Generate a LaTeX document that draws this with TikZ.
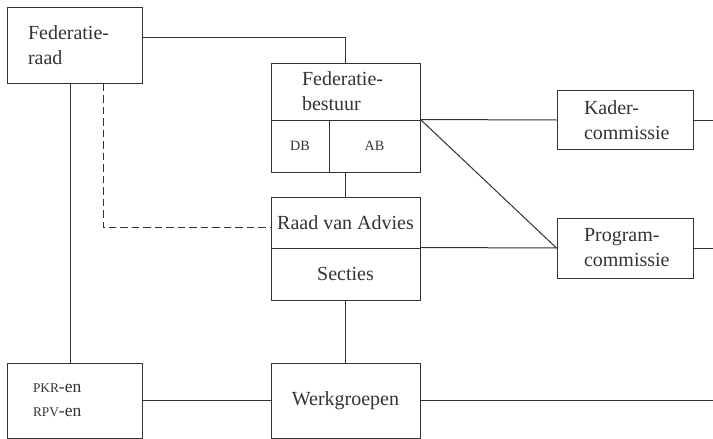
\documentclass[tikz,border=0pt]{standalone}
\usepackage{fontspec}
\setmainfont{Liberation Serif}
\usetikzlibrary{positioning}
\definecolor{lgrijs}{gray}{0.2}
\tikzset{blok/.style = {draw, rectangle, inner sep = 0, align = left, font = \fontsize{12}{15}\selectfont}}
\tikzset{klein/.style = {font = \fontsize{8.5}{10}\selectfont, align = center}}

\begin{document}
\begin{tikzpicture}[x = 0.6pt, y = -0.6pt, line width = 0.6pt, color = lgrijs]
      \useasboundingbox (0, 0) rectangle (713, 439);

      \node [blok, minimum width = 81.6pt, minimum height = 45.6pt, text width = 56.4pt] (raad) at (75, 45) {Federatie-\\raad};
      \node [blok, minimum width = 89.4pt, minimum height = 34.2pt, text width = 52.2pt] (bestuur) at (345.5, 91.5) {Federatie-\\bestuur};
      \node [blok, klein, minimum width = 34.8pt, minimum height = 31.2pt] (db) at (300, 146) {DB};
      \node [blok, klein, minimum width = 54.6pt, minimum height = 31.2pt] (ab) at (374.5, 146) {AB};
      \node [blok, align = center, minimum width = 89.4pt, minimum height = 30.6pt] (advies) at (345.5, 222.5) {Raad van Advies};
      \node [blok, align = center, minimum width = 89.4pt, minimum height = 31.2pt] (secties) at (345.5, 274) {Secties};
      \node [blok, minimum width = 81.6pt, minimum height = 35.4pt, text width = 49.2pt] (kader) at (625, 120) {Kader-\\commissie};
      \node [blok, minimum width = 81.6pt, minimum height = 36pt, text width = 49.2pt] (program) at (625, 248) {Program-\\commissie};
      \node [blok, minimum width = 81.6pt, minimum height = 45pt, text width = 50.4pt, font = \fontsize{10.5}{14.4}\selectfont] (pkr) at (75, 400.5) {{\footnotesize PKR}-en\\{\footnotesize RPV}-en};
      \node [blok, align = center, minimum width = 89.4pt, minimum height = 45pt] (werk) at (345.5, 400.5) {Werkgroepen};

      \coordinate (kaderuit) at (713, 120);
      \coordinate (programuit) at (713, 248);
      \coordinate (werkuit) at (713, 400.5);

      \draw ([yshift = 4.8pt]raad.east) -| (bestuur.north);
      \draw ([xshift = -3pt]raad.south) -- ([xshift = -3pt]pkr.north);
      \draw [dash pattern = on 4.5pt off 2.4pt] ([xshift = 16.8pt]raad.south) |- ([yshift = -2.7pt]advies.west);
      \draw (ab.south -| bestuur.south) -- (advies.north);
      \draw (ab.north east) -- (kader.west);
      \draw (ab.north east) -- (program.west);
      \draw (secties.north east) -- (program.west);
      \draw (secties.south) -- (werk.north);
      \draw (pkr.east) -- (werk.west);
      \draw (kader.east) -- (kaderuit);
      \draw (program.east) -- (programuit);
      \draw (werk.east) -- (werkuit);
    \end{tikzpicture}
\end{document}
